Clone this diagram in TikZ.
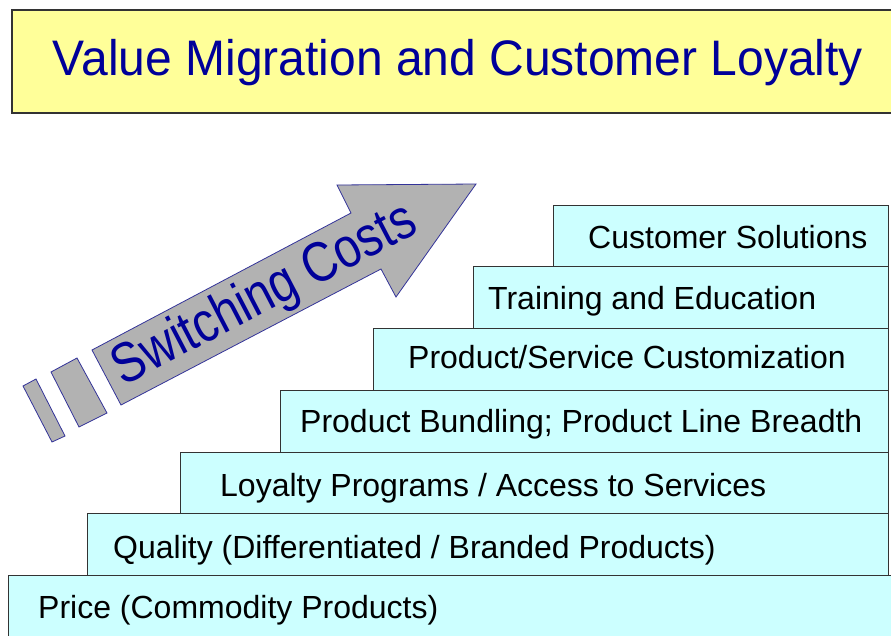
\documentclass[tikz,border=0pt]{standalone}
\usepackage{fontspec}
\usepackage{graphicx}
\setmainfont{Liberation Sans}
\begin{document}
\begin{tikzpicture}[x=1pt,y=-1pt,
  frame/.style={draw=black!80, line width=1.1pt},
  titlebox/.style={frame, fill=titleyellow},
  stepbox/.style={frame, fill=stepcyan, rectangle, inner sep=0pt, anchor=north west},
  steptext/.style={anchor=base west, inner sep=0pt, font=\fontsize{32}{36}\selectfont, text=black},
  arrowshape/.style={fill=arrowgray, draw=arrowblue, line width=0.8pt, line join=miter},
]
\definecolor{titleyellow}{HTML}{FFFF99}
\definecolor{stepcyan}{HTML}{CCFFFF}
\definecolor{arrowgray}{HTML}{B2B2B2}
\definecolor{arrowblue}{HTML}{333399}
\definecolor{navy}{HTML}{000099}
\useasboundingbox (0,0) rectangle (891,635);
\begin{scope}
\clip (0,0) rectangle (891,635);

% title banner
\draw[titlebox] (12,10) rectangle (900,113);
\node[text=navy, font=\fontsize{48}{54}\selectfont, inner sep=0pt] (title) at (458,63) {\scalebox{1}[1.04]{Value Migration and Customer Loyalty}};

% staircase of loyalty steps, bottom to top
\node[stepbox, minimum width=900pt, minimum height=70pt] (s1) at (8,575) {};
\node[stepbox, minimum width=801pt, minimum height=62pt] (s2) at (87,513) {};
\node[stepbox, minimum width=708pt, minimum height=61pt] (s3) at (180,452) {};
\node[stepbox, minimum width=608pt, minimum height=62pt] (s4) at (280,390) {};
\node[stepbox, minimum width=515pt, minimum height=62pt] (s5) at (373,328) {};
\node[stepbox, minimum width=415pt, minimum height=62pt] (s6) at (473,266) {};
\node[stepbox, minimum width=335pt, minimum height=61pt] (s7) at (553,205) {};

\node[steptext] (t1) at (38,618) {Price (Commodity Products)};
\node[steptext] (t2) at (113,558) {Quality (Differentiated / Branded Products)};
\node[steptext] (t3) at (220,496) {Loyalty Programs / Access to Services};
\node[steptext] (t4) at (300,432) {Product Bundling; Product Line Breadth};
\node[steptext] (t5) at (408,368) {Product/Service Customization};
\node[steptext] (t6) at (488,309) {Training and Education};
\node[steptext] (t7) at (588,248) {Customer Solutions};

% switching-costs arrow with its two trailing bars
\draw[arrowshape] (23,386) -- (36,379) -- (65,436) -- (52,442) -- cycle;
\draw[arrowshape] (51,372) -- (77,358) -- (107,413) -- (79,427) -- cycle;
\draw[arrowshape] (92,350) -- (351,213) -- (337,185) -- (476,184)
  -- (396,297) -- (381,269) -- (121,405) -- cycle;
\node[text=navy, font=\fontsize{47}{52}\selectfont, rotate=27.5, inner sep=0pt] (sc) at (265,296) {\scalebox{1}[1.2]{Switching Costs}};
\end{scope}
\end{tikzpicture}
\end{document}
